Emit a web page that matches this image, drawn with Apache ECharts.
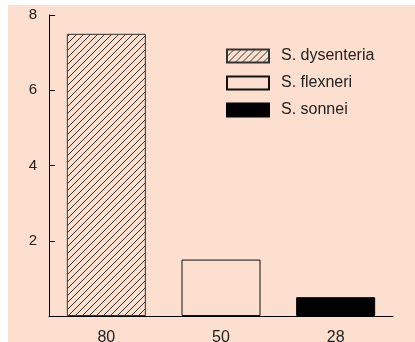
<!DOCTYPE html>
<html>
<head>
<meta charset="utf-8">
<script src="https://cdn.jsdelivr.net/npm/echarts@6/dist/echarts.min.js"></script>
<style>
html, body { margin: 0; padding: 0; background: #ffffff; }
#chart { position: absolute; left: 8px; top: 5px; width: 407px; height: 337px; }
</style>
</head>
<body>
<div id="chart"></div>
<script>
// Data
var categories = ['80', '50', '28'];
var values = [7.5, 1.5, 0.5];
var seriesNames = ['S. dysenteria', 'S. flexneri', 'S. sonnei'];
var yTicks = [0, 2, 4, 6, 8];

// Hatch pattern
var pc = document.createElement('canvas');
pc.width = 7; pc.height = 7;
var ctx = pc.getContext('2d');
ctx.fillStyle = '#fddfcf';
ctx.fillRect(0, 0, 7, 7);
ctx.strokeStyle = '#333333';
ctx.lineWidth = 1;
ctx.beginPath();
ctx.moveTo(-1, 8); ctx.lineTo(8, -1);
ctx.moveTo(-1, 1); ctx.lineTo(1, -1);
ctx.moveTo(6, 8); ctx.lineTo(8, 6);
ctx.stroke();

var styles = [
  { color: { image: pc, repeat: 'repeat' }, borderColor: '#333', borderWidth: 1 },
  { color: '#fddfcf', borderColor: '#111', borderWidth: 1 },
  { color: '#000000', borderColor: '#000', borderWidth: 1 }
];

var series = seriesNames.map(function (name, k) {
  return {
    name: name,
    type: 'bar',
    barWidth: 79,
    barGap: '-100%',
    itemStyle: styles[k],
    emphasis: { disabled: true },
    data: values.map(function (v, i) { return i === k ? v : null; })
  };
});

var chart = echarts.init(document.getElementById('chart'), null, { renderer: 'canvas' });
chart.setOption({
  backgroundColor: '#fddfcf',
  animation: false,
  textStyle: { fontFamily: 'Liberation Sans, Arial, sans-serif' },
  grid: { left: 41, top: 10, right: 22, bottom: 26, outerBoundsMode: 'none', containLabel: false },
  legend: {
    orient: 'vertical',
    left: 218,
    top: 43,
    padding: 0,
    itemWidth: 42,
    itemHeight: 13,
    itemGap: 11,
    icon: 'rect',
    data: seriesNames,
    textStyle: { fontSize: 16, color: '#222', padding: [0, 0, 0, 7], fontFamily: 'Liberation Sans, Arial, sans-serif' }
  },
  xAxis: {
    type: 'category',
    data: categories,
    axisLine: { lineStyle: { color: '#000', width: 1 } },
    axisTick: { show: false },
    axisLabel: { fontSize: 16, color: '#222', margin: 14, fontFamily: 'Liberation Sans, Arial, sans-serif' }
  },
  yAxis: {
    type: 'value',
    min: yTicks[0],
    max: yTicks[yTicks.length - 1],
    interval: 2,
    splitLine: { show: false },
    axisLine: { show: true, lineStyle: { color: '#000', width: 1 } },
    axisTick: { show: true, inside: true, length: 6, lineStyle: { color: '#000' } },
    axisLabel: { fontSize: 15, color: '#222', margin: 12, showMinLabel: false, fontFamily: 'Liberation Sans, Arial, sans-serif' }
  },
  series: series
});
</script>
</body>
</html>
